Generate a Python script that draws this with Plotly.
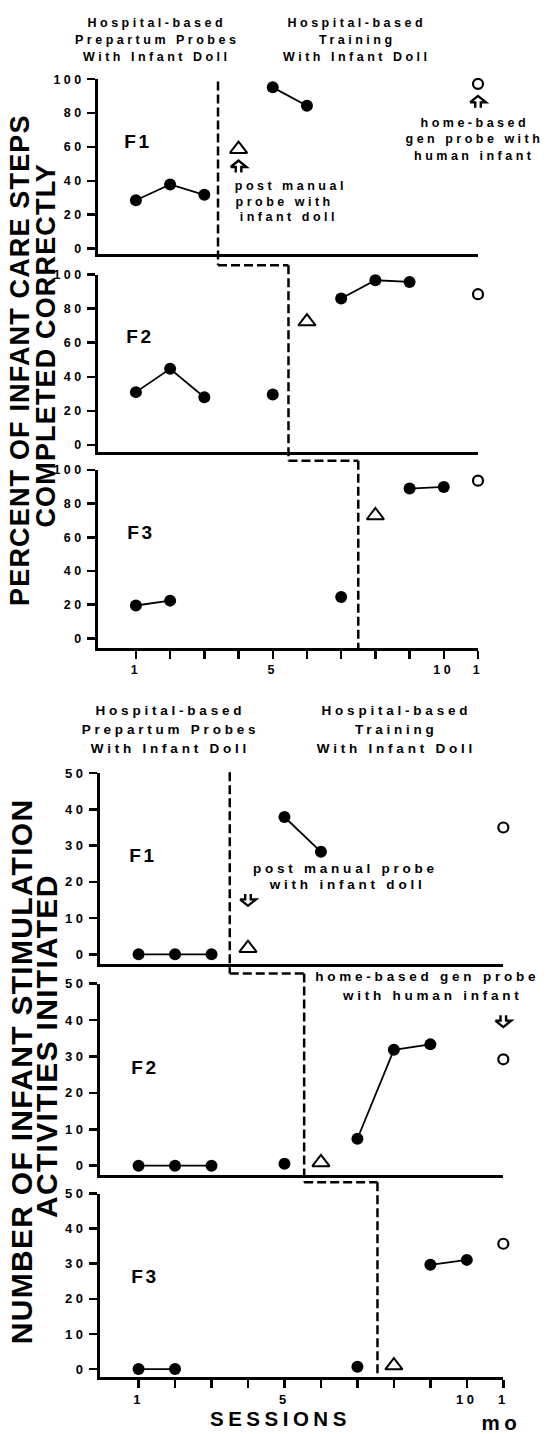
import plotly.graph_objects as go

W, H = 550, 1434

# ---------------- data ----------------
sessions = [1, 2, 3, 4, 5, 6, 7, 8, 9, 10]
home_session = 11
x_tickvals = [1, 2, 3, 4, 5, 6, 7, 8, 9, 10, 11]
x_ticktext = ["1", "", "", "", "5", "", "", "", "", "10", "1"]

# Percent of infant care steps completed correctly (filled circles)
care_f1 = [28.5, 37.8, 31.7, None, 95.2, 84.3, None, None, None, None]
care_f2 = [31.0, 44.7, 28.0, None, 29.6, None, 86.0, 96.7, 95.7, None]
care_f3 = [19.5, 22.4, None, None, None, None, 24.6, None, 89.0, 90.0]
care_probe_session = [4, 6, 8]          # post manual probe (open triangles)
care_probe = [58.7, 72.4, 73.0]
care_home = [97.3, 88.5, 93.7]          # home-based gen probe (open circles)
care_phase = [3.4, 5.46, 7.5]           # phase-change lines
care_yticks = [0, 20, 40, 60, 80, 100]

# Number of infant stimulation activities initiated
stim_f1 = [0, 0, 0, None, 37.9, 28.3, None, None, None, None]
stim_f2 = [0, 0, 0, None, 0.5, None, 7.4, 31.8, 33.3, None]
stim_f3 = [0, 0, None, None, None, None, 0.7, None, 29.7, 31.1]
stim_probe_session = [4, 6, 8]
stim_probe = [1.7, 0.9, 1.0]
stim_home = [35.0, 29.2, 35.7]
stim_phase = [3.5, 5.54, 7.55]
stim_yticks = [0, 10, 20, 30, 40, 50]

panel_names = ["F1", "F2", "F3"]

# ---------------- layout geometry (pixels) ----------------
FONT = "Liberation Sans, Arial, Helvetica, sans-serif"


def px_x(p):
    return p / W


def px_y(p):
    return 1 - p / H


# (pixel of top tick, pixel of zero tick, pixel of x-axis line, top value)
care_geo = [(72.7, 243.0, 248.5, 100), (269.3, 440.7, 448.3, 100), (466.0, 635.3, 645.0, 100)]
stim_geo = [(771.0, 953.3, 962.7, 50), (982.7, 1166.0, 1175.0, 50), (1194.0, 1370.7, 1379.0, 50)]
top_xdom = (99.0, 481.5)
bot_xdom = (101.0, 507.0)
top_xrange = [-0.1, 11]
bot_xrange = [-0.05, 11]

fig = go.Figure()
layout = dict(
    width=W, height=H, autosize=False,
    margin=dict(l=0, r=0, t=0, b=0),
    paper_bgcolor="white", plot_bgcolor="white",
    showlegend=False,
    font=dict(family=FONT, color="black"),
)

charts = [
    (care_geo, [care_f1, care_f2, care_f3], care_probe, care_home, care_yticks, top_xdom, top_xrange, 12.5,
     care_probe_session),
    (stim_geo, [stim_f1, stim_f2, stim_f3], stim_probe, stim_home, stim_yticks, bot_xdom, bot_xrange, 13,
     stim_probe_session),
]

ax_i = 0
for ci, (geo, series, probe, home, yticks, xdom, xrng, tfs, probe_x) in enumerate(charts):
    for pi in range(3):
        ax_i += 1
        sfx = "" if ax_i == 1 else str(ax_i)
        xa, ya = "x" + sfx, "y" + sfx
        top_px, zero_px, axis_px, topval = geo[pi]
        scale = (zero_px - top_px) / topval
        ylow = -(axis_px - zero_px) / scale
        last = pi == 2
        layout["xaxis" + sfx] = dict(
            domain=[px_x(xdom[0]), px_x(xdom[1])], range=xrng, anchor=ya,
            showline=True, linecolor="black", linewidth=3,
            showgrid=False, zeroline=False,
            ticks="outside" if last else "", ticklen=8, tickwidth=2.5, tickcolor="black",
            tickvals=x_tickvals if last else [], ticktext=x_ticktext if last else [],
            showticklabels=last,
            tickfont=dict(family=FONT, size=tfs, weight="bold", color="black"),
        )
        layout["yaxis" + sfx] = dict(
            domain=[px_y(axis_px), px_y(top_px)], range=[ylow, topval], anchor=xa,
            showline=True, linecolor="black", linewidth=3,
            showgrid=False, zeroline=False,
            ticks="outside", ticklen=8, tickwidth=2.5, tickcolor="black",
            tickvals=yticks, ticktext=[str(v) for v in yticks],
            tickfont=dict(family=FONT, size=tfs, weight="bold", color="black"),
        )
        # filled circles (connected within phases)
        fig.add_trace(go.Scatter(
            x=sessions, y=series[pi], xaxis=xa, yaxis=ya, mode="lines+markers",
            connectgaps=False, cliponaxis=False,
            line=dict(color="black", width=1.8),
            marker=dict(symbol="circle", size=12, color="black"),
            hoverinfo="skip",
        ))
        # post manual probe triangle
        fig.add_trace(go.Scatter(
            x=[probe_x[pi]], y=[probe[pi]],
            xaxis=xa, yaxis=ya, mode="markers", cliponaxis=False,
            marker=dict(symbol="triangle-up-open", size=15, color="black", line=dict(width=2, color="black")),
            hoverinfo="skip",
        ))
        # home-based generalization probe
        fig.add_trace(go.Scatter(
            x=[home_session], y=[home[pi]], xaxis=xa, yaxis=ya, mode="markers",
            marker=dict(symbol="circle-open", size=10, color="black", line=dict(width=2.2, color="black")),
            hoverinfo="skip", cliponaxis=False,
        ))

fig.update_layout(**layout)

# ---------------- phase-change dashed lines and arrows ----------------
shapes = []
DASH = "9px,4px"


def vline(xref, x, y0px, y1px):
    shapes.append(dict(type="line", xref=xref, yref="paper", x0=x, x1=x,
                       y0=px_y(y0px), y1=px_y(y1px), line=dict(color="black", width=2.5, dash=DASH)))


def hline(xref, xa, xb, ypx):
    shapes.append(dict(type="line", xref=xref, yref="paper", x0=xa, x1=xb,
                       y0=px_y(ypx), y1=px_y(ypx), line=dict(color="black", width=2.5, dash=DASH)))


# care chart
vline("x", care_phase[0], 75, 260)
hline("x", care_phase[0], care_phase[1], 260)
vline("x", care_phase[1], 260, 456.7)
hline("x", care_phase[1], care_phase[2], 456.7)
vline("x", care_phase[2], 456.7, 645)
# stimulation chart
vline("x4", stim_phase[0], 770, 972.7)
hline("x4", stim_phase[0], stim_phase[1], 972.7)
vline("x4", stim_phase[1], 972.7, 1182.7)
hline("x4", stim_phase[1], stim_phase[2], 1182.7)
vline("x4", stim_phase[2], 1182.7, 1379)


def hollow_arrow(xdom, xrng, xval, ypx, up=True):
    """Outline arrow (open head + split stem) centred at session xval."""
    cx = xdom[0] + (xval - xrng[0]) / (xrng[1] - xrng[0]) * (xdom[1] - xdom[0])
    s = -1 if up else 1
    pts_a = [(-8, 0), (0, 6.5), (8, 0), (2.8, 0), (2.8, -5.5)]
    pts_b = [(-8, 0), (-2.8, 0), (-2.8, -5.5)]

    def seg(pts):
        out = []
        for i, (dx, dy) in enumerate(pts):
            X = px_x(cx + dx)
            Y = px_y(ypx + s * dy)
            out.append(("M" if i == 0 else "L") + f"{X:.5f},{Y:.5f}")
        return " ".join(out)

    shapes.append(dict(type="path", xref="paper", yref="paper", path=seg(pts_a) + " " + seg(pts_b),
                       line=dict(color="black", width=2.4), fillcolor="rgba(0,0,0,0)"))


hollow_arrow(top_xdom, top_xrange, care_probe_session[0], 161, up=True)
hollow_arrow(top_xdom, top_xrange, home_session, 96, up=True)
hollow_arrow(bot_xdom, bot_xrange, stim_probe_session[0], 898, up=False)
hollow_arrow(bot_xdom, bot_xrange, home_session, 1020, up=False)

fig.update_layout(shapes=shapes)

# ---------------- text ----------------
ann = []


def txt(text, xp, yp, size=12.5, angle=0):
    ann.append(dict(text=text, x=px_x(xp), y=px_y(yp), xref="paper", yref="paper",
                    xanchor="center", yanchor="middle", showarrow=False, textangle=angle,
                    font=dict(family=FONT, size=size, color="black", weight="bold")))


# top chart headers
for t, y in zip(["Hospital-based", "Prepartum Probes", "With Infant Doll"], [16, 33.3, 50.7]):
    txt(t, 158, y)
for t, y in zip(["Hospital-based", "Training", "With Infant Doll"], [16, 33.3, 50.7]):
    txt(t, 360, y)
# bottom chart headers
for t, y in zip(["Hospital-based", "Prepartum Probes", "With Infant Doll"], [708.3, 726.7, 746]):
    txt(t, 172, y, size=13.5)
for t, y in zip(["Hospital-based", "Training", "With Infant Doll"], [708.3, 726.7, 746]):
    txt(t, 399, y, size=13.5)

# panel labels
for name, (xp, yp) in zip(panel_names, [(140, 135), (141, 331.7), (142, 529)]):
    txt(name, xp, yp, size=19)
for name, (xp, yp) in zip(panel_names, [(145, 854), (146, 1066.7), (146, 1277.3)]):
    txt(name, xp, yp, size=19)

# notes top chart
for t, xp, y in zip(["post manual", "probe with", "infant doll"], [293.6, 287, 291], [180, 196, 211.7]):
    txt(t, xp, y)
for t, y in zip(["home-based", "gen probe with", "human infant"], [116.7, 133.3, 150]):
    txt(t, 478, y)

# notes bottom chart
txt("post manual probe", 348, 866.7, size=13.5)
txt("with infant doll", 350, 883.3, size=13.5)
txt("home-based gen probe", 431, 976, size=13.5)
txt("with human infant", 436, 994.3, size=13.5)

# axis titles
txt("PERCENT OF INFANT CARE STEPS", 20, 355, size=27, angle=-90)
txt("COMPLETED CORRECTLY", 46, 340, size=27, angle=-90)
txt("NUMBER OF INFANT STIMULATION", 21, 1071, size=30, angle=-90)
txt("ACTIVITIES INITIATED", 47, 1046, size=30, angle=-90)
txt("SESSIONS", 283, 1420, size=20.5)
txt("mo", 505, 1424, size=20.5)

fig.update_layout(annotations=ann)

post = """
document.body.style.margin = '0';
document.body.style.padding = '0';
document.documentElement.style.overflow = 'hidden';
var gd = document.getElementById('{plot_id}');
gd.querySelectorAll('text').forEach(function(t){
  var ff = t.style.fontFamily || '';
  if (ff.indexOf('Liberation') < 0) return;
  var fs = parseFloat(t.style.fontSize);
  var ls;
  if (fs < 15) ls = fs * 0.28;
  else if (fs <= 19.5) ls = fs * 0.14;
  else if (fs <= 22) ls = fs * 0.22;
  else ls = fs * 0.043;
  t.style.letterSpacing = ls + 'px';
});
"""

fig.write_html("out.html", post_script=post, config={"displayModeBar": False, "staticPlot": True})
